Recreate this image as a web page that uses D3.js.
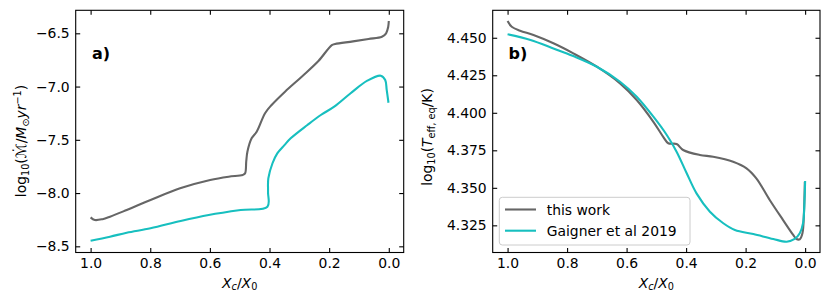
<!DOCTYPE html>
<html>
<head>
<meta charset="utf-8">
<script src="https://cdn.jsdelivr.net/npm/d3@7"></script>
<style>
  html, body { margin: 0; padding: 0; background: #fff; }
  svg { display: block; font-family: "DejaVu Sans", sans-serif; }
</style>
</head>
<body>
<svg id="chart" width="831" height="303"></svg>
<script>
// ---------- data ----------
const xTicks = [1.0, 0.8, 0.6, 0.4, 0.2, 0.0];
const yTicksA = [-8.5, -8.0, -7.5, -7.0, -6.5];
const yTicksB = [4.325, 4.350, 4.375, 4.400, 4.425, 4.450];
const seriesNames = ["this work", "Gaigner et al 2019"];

// panel a: log10 mass-loss rate vs Xc/X0
const aThisWork = [
  [1.000, -8.228], [0.986, -8.253], [0.960, -8.245], [0.935, -8.222], [0.879, -8.159],
  [0.799, -8.065], [0.700, -7.955], [0.599, -7.877], [0.537, -7.846], [0.490, -7.830],
  [0.482, -7.815], [0.478, -7.700], [0.474, -7.610], [0.460, -7.486], [0.443, -7.424],
  [0.415, -7.250], [0.393, -7.173], [0.348, -7.048], [0.292, -6.907], [0.236, -6.760],
  [0.191, -6.610], [0.180, -6.600], [0.120, -6.576], [0.068, -6.553], [0.023, -6.532],
  [0.009, -6.500], [0.002, -6.440], [0.000, -6.385]
];
const aGaigner = [
  [1.000, -8.447], [0.935, -8.410], [0.879, -8.372], [0.799, -8.331], [0.698, -8.262],
  [0.604, -8.206], [0.497, -8.159], [0.407, -8.128], [0.405, -7.990], [0.404, -7.862],
  [0.390, -7.720], [0.374, -7.627], [0.350, -7.550], [0.329, -7.486], [0.273, -7.361],
  [0.228, -7.267], [0.183, -7.189], [0.128, -7.063], [0.072, -6.945], [0.027, -6.898],
  [0.012, -6.938], [0.007, -7.032], [0.001, -7.152]
];

// panel b: log10 Teff,eq vs Xc/X0
const bThisWork = [
  [1.000, 4.4611], [0.986, 4.4573], [0.958, 4.4547], [0.913, 4.4518], [0.846, 4.4463],
  [0.779, 4.4396], [0.700, 4.4307], [0.622, 4.4196], [0.566, 4.4085], [0.510, 4.3940],
  [0.477, 4.3840], [0.460, 4.3797], [0.432, 4.3792], [0.410, 4.3752], [0.354, 4.3719],
  [0.309, 4.3707], [0.242, 4.3674], [0.197, 4.3630], [0.164, 4.3563], [0.119, 4.3419],
  [0.074, 4.3285], [0.040, 4.3186], [0.029, 4.3159], [0.018, 4.3157], [0.009, 4.3197],
  [0.004, 4.3330], [0.001, 4.3540]
];
const bGaigner = [
  [1.000, 4.4523], [0.923, 4.4485], [0.846, 4.4429], [0.779, 4.4378], [0.700, 4.4307],
  [0.622, 4.4207], [0.566, 4.4107], [0.510, 4.3974], [0.465, 4.3852], [0.432, 4.3741],
  [0.398, 4.3597], [0.365, 4.3463], [0.320, 4.3341], [0.275, 4.3264], [0.236, 4.3219],
  [0.174, 4.3192], [0.107, 4.3159], [0.062, 4.3141], [0.035, 4.3159], [0.018, 4.3197],
  [0.007, 4.3264], [0.002, 4.3419], [0.000, 4.3545]
];

// ---------- styles ----------
const GRAY = "#666666";
const CYAN = "#17bfbf";
const FS = 13.9;
const svg = d3.select("#chart");

function panel(opts) {
  const { left, right, top, bottom, xDomain, yDomain, yTicks, yFmt, series, tag } = opts;
  const x = d3.scaleLinear().domain(xDomain).range([left, right]);
  const y = d3.scaleLinear().domain(yDomain).range([bottom, top]);
  const g = svg.append("g");

  const clipId = "clip-" + tag;
  svg.append("clipPath").attr("id", clipId).append("rect")
    .attr("x", left).attr("y", top).attr("width", right - left).attr("height", bottom - top);

  const line = d3.line().x(d => x(d[0])).y(d => y(d[1])).curve(d3.curveCatmullRom.alpha(0.5));
  series.forEach(s => {
    g.append("path").datum(s.data)
      .attr("clip-path", `url(#${clipId})`)
      .attr("fill", "none").attr("stroke", s.color).attr("stroke-width", 2.1)
      .attr("stroke-linejoin", "round").attr("stroke-linecap", "butt")
      .attr("d", line);
  });

  const TL = 4.5;
  const styleAxis = sel => {
    sel.select(".domain").remove();
    sel.selectAll(".tick line").attr("stroke", "#000").attr("stroke-width", 1.1);
    sel.selectAll(".tick text").attr("fill", "#000")
      .style("font-family", "DejaVu Sans").style("font-size", FS + "px");
    sel.attr("font-family", null).attr("font-size", null);
  };
  g.append("g").attr("transform", `translate(0,${bottom})`)
    .call(d3.axisBottom(x).tickValues(xTicks).tickFormat(d3.format(".1f")).tickSizeInner(-TL).tickSizeOuter(0).tickPadding(6.1))
    .call(styleAxis);
  g.append("g").attr("transform", `translate(0,${top})`)
    .call(d3.axisTop(x).tickValues(xTicks).tickFormat("").tickSizeInner(-TL).tickSizeOuter(0))
    .call(styleAxis);
  g.append("g").attr("transform", `translate(${left},0)`)
    .call(d3.axisLeft(y).tickValues(yTicks).tickFormat(d => yFmt(d).replace("-", "\u2212")).tickSizeInner(-TL).tickSizeOuter(0).tickPadding(6))
    .call(styleAxis);
  g.append("g").attr("transform", `translate(${right},0)`)
    .call(d3.axisRight(y).tickValues(yTicks).tickFormat("").tickSizeInner(-TL).tickSizeOuter(0))
    .call(styleAxis);

  g.append("rect").attr("x", left).attr("y", top).attr("width", right - left).attr("height", bottom - top)
    .attr("fill", "none").attr("stroke", "#000").attr("stroke-width", 1.1);

  // x label  X_c / X_0
  const xl = g.append("text").attr("x", (left + right) / 2).attr("y", 287.5)
    .attr("text-anchor", "middle").style("font-size", FS + "px");
  xl.append("tspan").attr("font-style", "italic").text("X");
  xl.append("tspan").attr("font-style", "italic").attr("dy", 2.8).style("font-size", (FS * 0.7) + "px").text("c");
  xl.append("tspan").attr("dy", -2.8).text("/");
  xl.append("tspan").attr("font-style", "italic").text("X");
  xl.append("tspan").attr("dy", 2.8).style("font-size", (FS * 0.7) + "px").text("0");

  return { g, x, y };
}

const pa = panel({
  tag: "a", left: 75.7, right: 403.7, top: 10.3, bottom: 252.5,
  xDomain: [1.05, -0.05], yDomain: [-8.558, -6.284],
  yTicks: yTicksA, yFmt: d3.format(".1f"),
  series: [{ data: aThisWork, color: GRAY }, { data: aGaigner, color: CYAN }]
});
const pb = panel({
  tag: "b", left: 492.7, right: 820, top: 10.3, bottom: 252.5,
  xDomain: [1.05, -0.05], yDomain: [4.3069, 4.4683],
  yTicks: yTicksB, yFmt: d3.format(".3f"),
  series: [{ data: bThisWork, color: GRAY }, { data: bGaigner, color: CYAN }]
});

// panel tags
svg.append("text").attr("x", 92).attr("y", 59).attr("font-weight", "bold").style("font-size", "16px").text("a)");
svg.append("text").attr("x", 508.5).attr("y", 59).attr("font-weight", "bold").style("font-size", "16px").text("b)");

// y labels
const SUB = FS * 0.7;
const yla = svg.append("text").attr("transform", "translate(26,141) rotate(-90)")
  .attr("text-anchor", "middle").style("font-size", FS + "px");
yla.append("tspan").text("log");
yla.append("tspan").attr("dy", 2.8).style("font-size", SUB + "px").text("10");
yla.append("tspan").attr("dy", -2.8).text("(");
yla.append("tspan").attr("font-style", "italic").text("\u2133\u0307");
yla.append("tspan").text("/");
yla.append("tspan").attr("font-style", "italic").text("M");
yla.append("tspan").attr("dy", 2.8).style("font-size", SUB + "px").text("\u2299");
yla.append("tspan").attr("dy", -2.8).attr("font-style", "italic").text("yr");
yla.append("tspan").attr("dy", -5.2).style("font-size", SUB + "px").text("\u22121");
yla.append("tspan").attr("dy", 5.2).text(")");

const ylb = svg.append("text").attr("transform", "translate(432,137) rotate(-90)")
  .attr("text-anchor", "middle").style("font-size", FS + "px");
ylb.append("tspan").text("log");
ylb.append("tspan").attr("dy", 2.8).style("font-size", SUB + "px").text("10");
ylb.append("tspan").attr("dy", -2.8).text("(");
ylb.append("tspan").attr("font-style", "italic").text("T");
ylb.append("tspan").attr("dy", 2.8).style("font-size", SUB + "px").text("eff, eq");
ylb.append("tspan").attr("dy", -2.8).text("/K)");

// legend
const leg = svg.append("g");
leg.append("rect").attr("x", 499.3).attr("y", 197.3).attr("width", 190.7).attr("height", 47.7)
  .attr("rx", 3).attr("fill", "#fff").attr("fill-opacity", 0.8).attr("stroke", "#cccccc").attr("stroke-width", 1);
const legRows = [
  { name: seriesNames[0], color: GRAY, y: 209.5 },
  { name: seriesNames[1], color: CYAN, y: 230.7 }
];
legRows.forEach(r => {
  leg.append("line").attr("x1", 505).attr("x2", 536).attr("y1", r.y).attr("y2", r.y)
    .attr("stroke", r.color).attr("stroke-width", 2.1);
  leg.append("text").attr("x", 546.7).attr("y", r.y).attr("dy", "0.36em")
    .style("font-size", FS + "px").text(r.name);
});
</script>
</body>
</html>
